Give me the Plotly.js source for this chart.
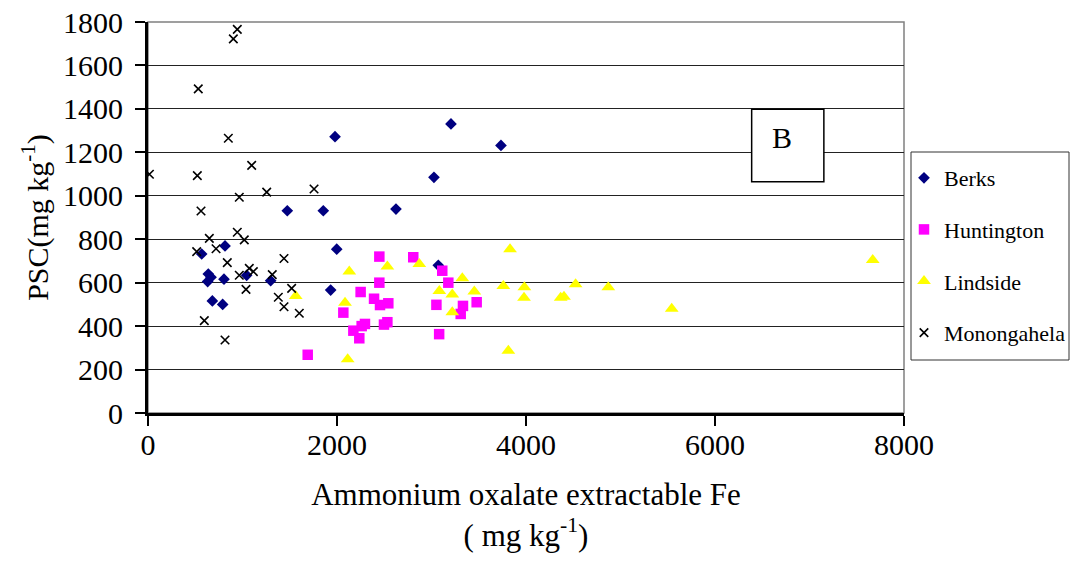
<!DOCTYPE html>
<html>
<head>
<meta charset="utf-8">
<script src="https://cdn.plot.ly/plotly-3.0.1.min.js"></script>
<style>
  html, body { margin: 0; padding: 0; background: #fff; }
  #chart { width: 1072px; height: 564px; }
</style>
</head>
<body>
<div id="chart"></div>
<script>
// Ammonium oxalate extractable Fe (mg/kg) vs PSC (mg/kg)
const seriesNames = ["Berks", "Huntington", "Lindside", "Monongahela"];

const berksX = [1979, 3206, 3735, 3026, 2624, 1474, 1855, 815, 568, 1997, 1044, 638, 667, 631, 804, 1298, 1933, 681, 790, 3072];
const berksY = [1272, 1331, 1232, 1085, 939, 931, 931, 769, 732, 754, 634, 640, 625, 605, 616, 609, 566, 516, 500, 680];

const huntX = [1690, 2067, 2448, 2807, 3114, 2448, 3178, 2250, 2392, 2543, 2455, 3052, 3333, 3478, 3309, 2296, 2261, 2533, 2497, 2173, 2236, 3081];
const huntY = [268, 462, 720, 717, 655, 600, 600, 557, 526, 505, 497, 498, 493, 510, 456, 410, 400, 418, 407, 379, 344, 363];

const lindX = [1563, 2085, 2130, 2113, 2533, 2871, 3083, 3220, 3326, 3453, 3220, 3760, 3831, 3983, 3979, 4367, 4402, 4525, 4871, 3813, 5542, 7669];
const lindY = [539, 508, 651, 247, 674, 686, 562, 545, 620, 559, 464, 585, 754, 579, 531, 531, 535, 593, 579, 287, 480, 704];

const monoX = [945, 903, 532, 850, 15, 522, 1097, 966, 1256, 1757, 561, 649, 945, 1019, 720, 515, 839, 1439, 1072, 1115, 966, 1315, 1520, 1037, 1379, 1439, 1601, 596, 815];
const monoY = [1766, 1722, 1492, 1265, 1099, 1093, 1140, 993, 1017, 1031, 930, 804, 832, 797, 756, 743, 692, 711, 666, 651, 634, 637, 574, 569, 533, 489, 459, 425, 336];

const xTicks = [0, 2000, 4000, 6000, 8000];
const yTicks = [0, 200, 400, 600, 800, 1000, 1200, 1400, 1600, 1800];
const panelLabel = "B";

const FONT = "Liberation Serif";

const traces = [
  { x: berksX, y: berksY, name: seriesNames[0], legendgroup: "g1", type: "scatter", mode: "markers",
    marker: { symbol: "diamond", size: 9, color: "#000080", line: { width: 0 } } },
  { x: huntX, y: huntY, name: seriesNames[1], legendgroup: "g2", type: "scatter", mode: "markers",
    marker: { symbol: "square", size: 10.5, color: "#FF00FF", line: { width: 0 } } },
  { x: lindX, y: lindY, name: seriesNames[2], legendgroup: "g3", type: "scatter", mode: "markers",
    marker: { symbol: "triangle-up", size: 12, color: "#FFFF00", line: { width: 0 } } },
  { x: monoX, y: monoY, name: seriesNames[3], legendgroup: "g4", type: "scatter", mode: "markers",
    marker: { symbol: "x-thin-open", size: 8.5, color: "#000000", line: { width: 1.6, color: "#000000" } } }
];

const layout = {
  width: 1072, height: 564,
  margin: { l: 148, r: 168, t: 22, b: 151 },
  paper_bgcolor: "#ffffff", plot_bgcolor: "#ffffff",
  font: { family: FONT, size: 30, color: "#000" },
  showlegend: true,
  legend: {
    xref: "container", yref: "container",
    x: 904 / 1072, xanchor: "left", y: 1 - 157 / 564, yanchor: "top",
    bgcolor: "rgba(0,0,0,0)", borderwidth: 0,
    font: { family: FONT, size: 22, color: "#000" },
    tracegroupgap: 20, traceorder: "grouped"
  },
  xaxis: {
    range: [0, 8000], tickvals: xTicks, ticktext: xTicks.map(String),
    showgrid: false, zeroline: false, automargin: false,
    showline: true, linecolor: "#000", linewidth: 3,
    ticks: "outside", ticklen: 10, tickwidth: 2, tickcolor: "#000",
    ticklabelstandoff: -7,
    tickfont: { family: FONT, size: 30 },
    title: { text: "Ammonium oxalate extractable Fe<br>( mg kg<sup>-1</sup>)", font: { family: FONT, size: 31 }, standoff: 24 }
  },
  yaxis: {
    range: [0, 1800], tickvals: yTicks, ticktext: yTicks.map(String),
    showgrid: true, gridcolor: "#222222", gridwidth: 1,
    zeroline: false, automargin: false,
    showline: true, linecolor: "#000", linewidth: 3,
    ticks: "outside", ticklen: 10, tickwidth: 2, tickcolor: "#000",
    ticklabelstandoff: 6,
    tickfont: { family: FONT, size: 30 },
    title: { text: "PSC(mg kg<sup>-1</sup>)", font: { family: FONT, size: 30 }, standoff: 6 }
  },
  shapes: [
    { type: "rect", xref: "paper", yref: "paper", x0: 0, x1: 1, y0: 0, y1: 1,
      line: { color: "#808080", width: 1.5 }, layer: "below" },
    { type: "rect", xref: "paper", yref: "paper", x0: 0.7985, x1: 0.894, y0: 0.5916, y1: 0.7767,
      line: { color: "#000000", width: 1.5 }, fillcolor: "#ffffff", layer: "above" },
    { type: "rect", xref: "paper", yref: "paper",
      x0: (911 - 148) / 756, x1: (1069 - 148) / 756, y0: (413 - 360) / 391, y1: (413 - 152) / 391,
      line: { color: "#333333", width: 1 }, fillcolor: "rgba(0,0,0,0)", layer: "above" }
  ],
  annotations: [
    { xref: "paper", yref: "paper", x: 0.8385, y: 0.705, text: panelLabel, showarrow: false,
      font: { family: FONT, size: 30, color: "#000" }, xanchor: "center", yanchor: "middle" }
  ]
};

Plotly.newPlot("chart", traces, layout, { displayModeBar: false, staticPlot: true });
</script>
</body>
</html>
